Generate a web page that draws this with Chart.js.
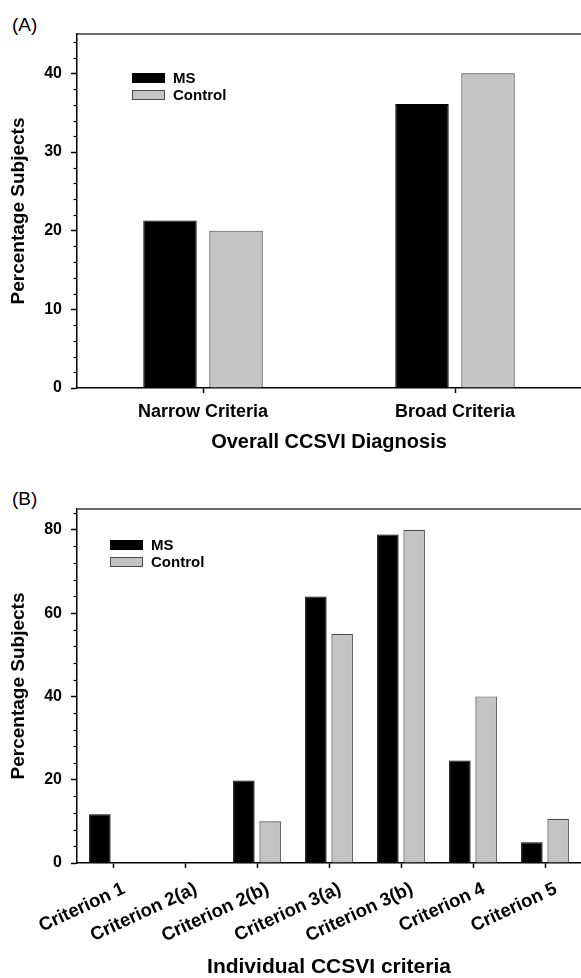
<!DOCTYPE html>
<html>
<head>
<meta charset="utf-8">
<script src="https://cdn.jsdelivr.net/npm/chart.js@4.4.1/dist/chart.umd.min.js"></script>
<style>
  body { margin: 0; background: #fff; width: 581px; height: 978px; position: relative; overflow: hidden;
         font-family: "Liberation Sans", Arial, sans-serif; }
  .tag { position: absolute; left: 12px; font-size: 19px; line-height: 1; color: #000; }
  .box { position: absolute; left: 0; width: 581px; }
</style>
</head>
<body>
<div class="tag" style="top:15px">(A)</div>
<div class="box" style="top:0;height:470px"><canvas id="chartA" width="581" height="470"></canvas></div>
<div class="tag" style="top:489px">(B)</div>
<div class="box" style="top:470px;height:508px"><canvas id="chartB" width="581" height="508"></canvas></div>

<script>
const FONT = '"Liberation Sans", Arial, sans-serif';
Chart.defaults.font.family = FONT;
Chart.defaults.color = '#000';

// (A) overall diagnosis
const overallLabels = ['Narrow Criteria', 'Broad Criteria'];
const overallMS = [21.3, 36.1];
const overallControl = [20, 40];

// (B) individual criteria
const criteriaLabels = ['Criterion 1', 'Criterion 2(a)', 'Criterion 2(b)', 'Criterion 3(a)',
                        'Criterion 3(b)', 'Criterion 4', 'Criterion 5'];
const criteriaMS = [11.7, 0, 19.8, 64, 78.9, 24.6, 5];
const criteriaControl = [0, 0, 10, 55, 80, 40, 10.6];

// top line of the box, minor y ticks and the little legend inside the plot
const frame = {
  id: 'frame',
  afterDraw(chart, args, opts) {
    const { ctx, chartArea: a } = chart;
    const y = chart.scales.y;
    ctx.save();
    ctx.strokeStyle = '#3a3a3a';
    ctx.lineWidth = 1.5;
    ctx.beginPath();
    ctx.moveTo(a.left, a.top);
    ctx.lineTo(a.right, a.top);
    ctx.stroke();

    ctx.strokeStyle = '#000';
    ctx.lineWidth = 1.2;
    for (let v = y.min; v <= y.max; v += opts.minor) {
      if (v % opts.major === 0) continue;
      const py = Math.round(y.getPixelForValue(v)) + 0.5;
      ctx.beginPath();
      ctx.moveTo(a.left - 3.5, py);
      ctx.lineTo(a.left, py);
      ctx.stroke();
    }

    ctx.font = 'bold 15px ' + FONT;
    ctx.textBaseline = 'middle';
    chart.data.datasets.forEach((ds, i) => {
      const lx = a.left + opts.legendX;
      const ly = a.top + opts.legendY + i * 17;
      ctx.fillStyle = ds.backgroundColor;
      ctx.fillRect(lx, ly, 33, 10);
      ctx.strokeStyle = ds.legendBorder;
      ctx.lineWidth = 1;
      ctx.strokeRect(lx + 0.5, ly + 0.5, 32, 9);
      ctx.fillStyle = '#000';
      ctx.fillText(ds.label, lx + 41, ly + 5.5);
    });
    ctx.restore();
  }
};

function makeChart(id, labels, ms, control, cfg) {
  return new Chart(document.getElementById(id), {
    type: 'bar',
    data: {
      labels: labels,
      datasets: [
        { label: 'MS', data: ms, backgroundColor: '#000', borderColor: '#000', legendBorder: '#000',
          borderWidth: c => c.raw ? 1 : 0 },
        { label: 'Control', data: control, backgroundColor: '#c4c4c4', borderColor: '#4a4a4a', legendBorder: '#4a4a4a',
          borderWidth: c => c.raw ? 1.2 : 0 }
      ]
    },
    options: {
      responsive: false,
      animation: false,
      layout: { padding: { top: cfg.top, right: 0, bottom: 0, left: 0 } },
      categoryPercentage: cfg.cat,
      barPercentage: cfg.bar,
      plugins: {
        legend: { display: false },
        tooltip: { enabled: false },
        frame: { minor: cfg.yMinor, major: cfg.yStep, legendX: cfg.legendX, legendY: cfg.legendY }
      },
      scales: {
        x: {
          grid: { offset: false, drawOnChartArea: false, tickLength: 5, tickColor: '#000', tickWidth: 1.5 },
          border: { color: '#000', width: 1.5 },
          ticks: { font: { size: cfg.xTickSize, weight: 'bold' }, padding: cfg.xTickPad, autoSkip: false,
                   minRotation: cfg.rot, maxRotation: cfg.rot, labelOffset: cfg.labelOffset },
          title: { display: true, text: cfg.xTitle, font: { size: cfg.xTitleSize, weight: 'bold', lineHeight: 1 },
                   padding: { top: 0, bottom: cfg.xTitlePad } },
          afterFit: s => { s.height = cfg.xHeight; }
        },
        y: {
          min: 0,
          max: cfg.yMax,
          grid: { drawOnChartArea: false, tickLength: 6, tickColor: '#000', tickWidth: 1.5 },
          border: { color: '#000', width: 1.5 },
          ticks: { stepSize: cfg.yStep, includeBounds: false, font: { size: 16, weight: 'bold' }, padding: 9 },
          title: { display: true, text: 'Percentage Subjects', font: { size: 19, weight: 'bold', lineHeight: 1 },
                   padding: { top: 9.5, bottom: 0 } },
          afterFit: s => { s.width = 77; }
        }
      }
    },
    plugins: [frame]
  });
}

makeChart('chartA', overallLabels, overallMS, overallControl, {
  top: 34, xHeight: 82, yMax: 45, yStep: 10, yMinor: 2,
  cat: 0.524, bar: 0.81,
  xTickSize: 18, xTickPad: 8, rot: 0, labelOffset: 0,
  xTitle: 'Overall CCSVI Diagnosis', xTitleSize: 20, xTitlePad: 18,
  legendX: 55, legendY: 39
});

makeChart('chartB', criteriaLabels, criteriaMS, criteriaControl, {
  top: 39, xHeight: 115, yMax: 85, yStep: 20, yMinor: 4,
  cat: 0.73, bar: 0.82,
  xTickSize: 18.5, xTickPad: 10, rot: 25, labelOffset: 11,
  xTitle: 'Individual CCSVI criteria', xTitleSize: 21, xTitlePad: 0,
  legendX: 33, legendY: 31
});
</script>
</body>
</html>
